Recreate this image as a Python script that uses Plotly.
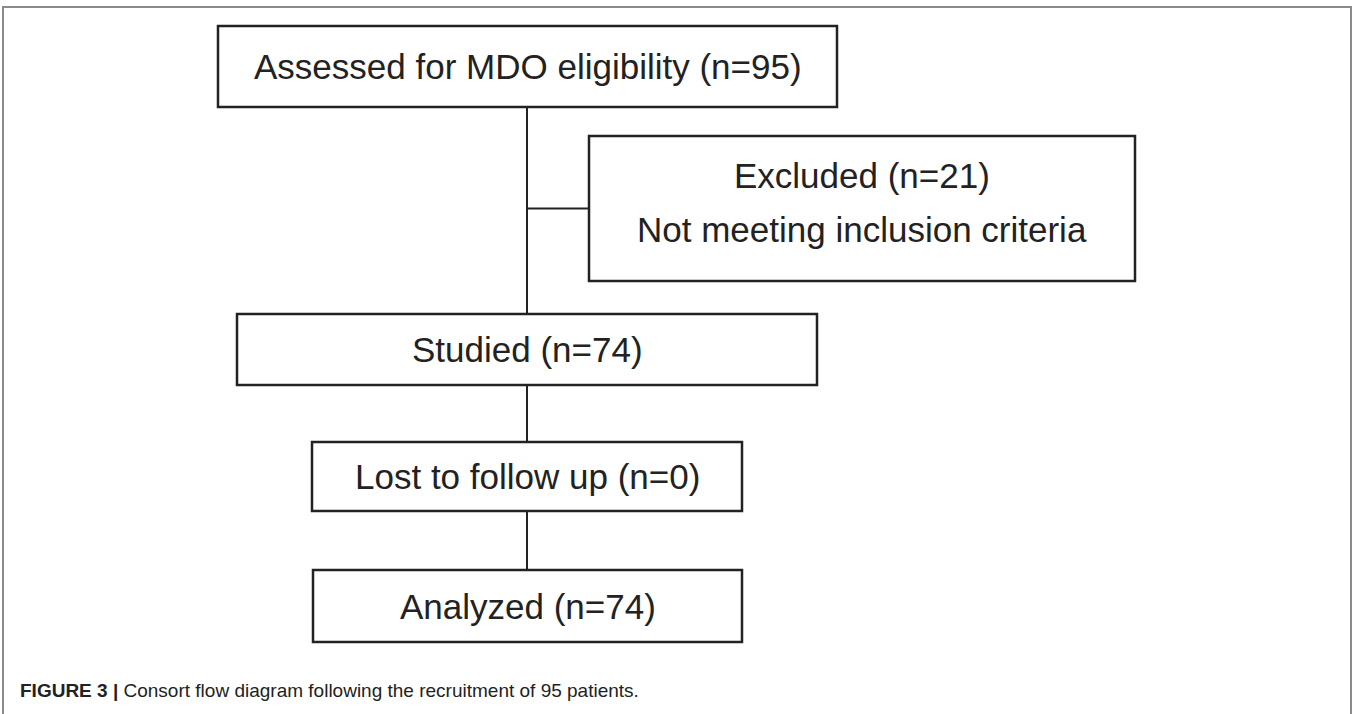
import plotly.graph_objects as go

# ---- data (flow stages and counts) ----
stages = ["Assessed for MDO eligibility", "Excluded", "Studied", "Lost to follow up", "Analyzed"]
counts = [95, 21, 74, 0, 74]
notes = ["", "Not meeting inclusion criteria", "", "", ""]
caption_label = "FIGURE 3 |"
caption_text = "Consort flow diagram following the recruitment of 95 patients."

# ---- layout geometry (pixels, y downwards) ----
box_x0 = [218, 589, 237, 312, 313]
box_x1 = [837, 1135, 817, 742, 742]
box_y0 = [26, 136, 314, 442, 570]
box_y1 = [107, 281, 385, 511, 642]
spine_x = 527

W, H = 1357, 714
ink = "#222222"
font_main = "Liberation Sans, Arial, sans-serif"

fig = go.Figure()
shapes = []
annotations = []

# outer frame
shapes.append(dict(type="rect", xref="x", yref="y", x0=3, x1=1351, y0=7, y1=740,
                   line=dict(color="#8a8a8a", width=2), fillcolor="rgba(0,0,0,0)"))

# connectors
shapes.append(dict(type="line", xref="x", yref="y", x0=spine_x, x1=spine_x,
                   y0=box_y1[0], y1=box_y0[2], line=dict(color=ink, width=2)))
mid_excl = (box_y0[1] + box_y1[1]) / 2
shapes.append(dict(type="line", xref="x", yref="y", x0=spine_x, x1=box_x0[1],
                   y0=mid_excl, y1=mid_excl, line=dict(color=ink, width=2)))
shapes.append(dict(type="line", xref="x", yref="y", x0=spine_x, x1=spine_x,
                   y0=box_y1[2], y1=box_y0[3], line=dict(color=ink, width=2)))
shapes.append(dict(type="line", xref="x", yref="y", x0=spine_x, x1=spine_x,
                   y0=box_y1[3], y1=box_y0[4], line=dict(color=ink, width=2)))

# boxes and texts
for i, (name, n, note) in enumerate(zip(stages, counts, notes)):
    shapes.append(dict(type="rect", xref="x", yref="y",
                       x0=box_x0[i], x1=box_x1[i], y0=box_y0[i], y1=box_y1[i],
                       line=dict(color=ink, width=2.5), fillcolor="white"))
    cx = (box_x0[i] + box_x1[i]) / 2
    cy = (box_y0[i] + box_y1[i]) / 2
    label = f"{name} (n={n})"
    if note:
        annotations.append(dict(x=cx, y=cy - 33, xref="x", yref="y", text=label,
                                showarrow=False, xanchor="center", yanchor="middle",
                                font=dict(family=font_main, size=35, color=ink)))
        annotations.append(dict(x=cx, y=cy + 21, xref="x", yref="y", text=note,
                                showarrow=False, xanchor="center", yanchor="middle",
                                font=dict(family=font_main, size=35, color=ink)))
    else:
        annotations.append(dict(x=cx, y=cy, xref="x", yref="y", text=label,
                                showarrow=False, xanchor="center", yanchor="middle",
                                font=dict(family=font_main, size=35, color=ink)))

# caption
annotations.append(dict(x=18, y=690, xref="x", yref="y",
                        text=f"<b>{caption_label}</b> {caption_text}",
                        showarrow=False, xanchor="left", yanchor="middle",
                        font=dict(family="Liberation Sans Narrow, Arial Narrow, Liberation Sans, sans-serif",
                                  size=19, color=ink)))

fig.update_layout(
    width=W, height=H,
    margin=dict(l=0, r=0, t=0, b=0),
    paper_bgcolor="white", plot_bgcolor="white",
    xaxis=dict(range=[0, W], visible=False, fixedrange=True),
    yaxis=dict(range=[H, 0], visible=False, fixedrange=True),
    shapes=shapes, annotations=annotations, showlegend=False,
)

fig.write_html("out.html", config={"displayModeBar": False},
               post_script="document.body.style.margin='0';document.body.style.overflow='hidden';")
